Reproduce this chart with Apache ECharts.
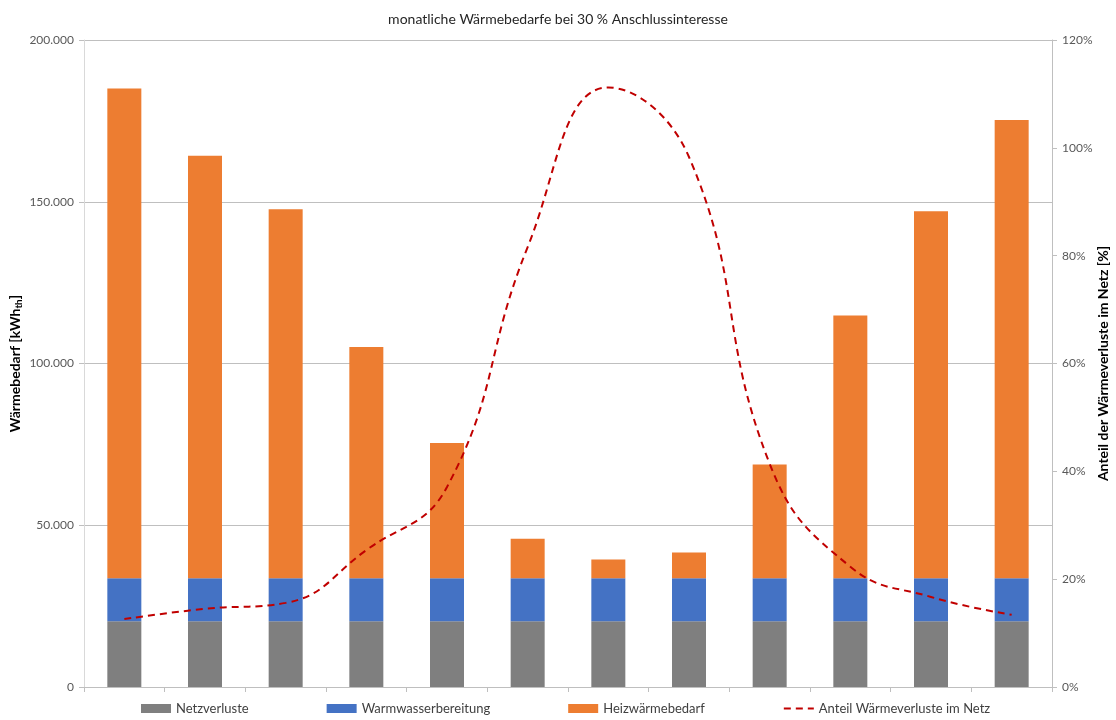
<!DOCTYPE html>
<html>
<head>
<meta charset="utf-8">
<script src="https://cdn.jsdelivr.net/npm/echarts@6/dist/echarts.min.js"></script>
<style>
  html, body { margin: 0; padding: 0; background: #fff; }
  #chart { width: 1116px; height: 720px; }
</style>
</head>
<body>
<div id="chart"></div>
<script>
// months (no labels shown on the axis)
const months = ["Jan", "Feb", "Mär", "Apr", "Mai", "Jun", "Jul", "Aug", "Sep", "Okt", "Nov", "Dez"];

// kWh_th per month
const netzverluste = [20300, 20300, 20300, 20300, 20300, 20300, 20300, 20300, 20300, 20300, 20300, 20300];
const warmwasser = [13300, 13300, 13300, 13300, 13300, 13300, 13300, 13300, 13300, 13300, 13300, 13300];
const heizwaerme = [151400, 130600, 114100, 71500, 41800, 12200, 5800, 8000, 35200, 81200, 113500, 141700];

// share of net losses, percent
const anteilVerluste = [12.6, 14.5, 15.6, 25.4, 37.1, 81.6, 111.2, 98.3, 41.4, 22.3, 16.7, 13.4];

const leftTicks = { min: 0, max: 200000, interval: 50000 };
const rightTicks = { min: 0, max: 120, interval: 20 };

const font = "Lato, 'Liberation Sans', sans-serif";
const fmtDe = v => String(v).replace(/\B(?=(\d{3})+(?!\d))/g, ".");

const chart = echarts.init(document.getElementById("chart"));

chart.setOption({
  animation: false,
  textStyle: { fontFamily: font },
  title: {
    text: "monatliche Wärmebedarfe bei 30 % Anschlussinteresse",
    left: "center",
    top: 7,
    textStyle: { fontSize: 14, fontWeight: "normal", color: "#262626", fontFamily: font }
  },
  legend: {
    left: 136,
    top: 697,
    itemWidth: 30,
    itemHeight: 9,
    itemGap: 78,
    textStyle: { fontSize: 13, color: "#404040", fontFamily: font },
    data: [
      { name: "Netzverluste", icon: "rect" },
      { name: "Warmwasserbereitung", icon: "rect" },
      { name: "Heizwärmebedarf", icon: "rect" },
      { name: "Anteil Wärmeverluste im Netz", itemStyle: { opacity: 0 } }
    ]
  },
  grid: { left: 84, right: 64, top: 40, bottom: 33, containLabel: false, outerBoundsMode: "none" },
  xAxis: {
    type: "category",
    data: months,
    axisLine: { lineStyle: { color: "#bfbfbf" } },
    axisTick: { show: true, length: 5, lineStyle: { color: "#bfbfbf" } },
    axisLabel: { show: false }
  },
  yAxis: [
    {
      type: "value",
      min: leftTicks.min,
      max: leftTicks.max,
      interval: leftTicks.interval,
      name: "{a|Wärmebedarf [kWh}{s|th}{a|]}",
      nameLocation: "middle",
      nameRotate: 90,
      nameGap: 60,
      nameMoveOverlap: false,
      nameTextStyle: {
        rich: {
          a: { fontSize: 14, fontWeight: "bold", color: "#000", fontFamily: font },
          s: { fontSize: 10, fontWeight: "bold", color: "#000", fontFamily: font, padding: [8, 0, 0, 0] }
        }
      },
      axisLine: { show: true, lineStyle: { color: "#d9d9d9" } },
      axisTick: { show: true, length: 5, lineStyle: { color: "#bfbfbf" } },
      axisLabel: { color: "#595959", fontSize: 12, margin: 10, formatter: fmtDe },
      splitLine: { lineStyle: { color: "#bfbfbf" } }
    },
    {
      type: "value",
      position: "right",
      min: rightTicks.min,
      max: rightTicks.max,
      interval: rightTicks.interval,
      name: "Anteil der Wärmeverluste im Netz [%]",
      nameLocation: "middle",
      nameRotate: 90,
      nameGap: 44,
      nameMoveOverlap: false,
      nameTextStyle: { fontSize: 14, fontWeight: "bold", color: "#000", fontFamily: font },
      axisLine: { show: true, lineStyle: { color: "#bfbfbf" } },
      axisTick: { show: true, length: 5, lineStyle: { color: "#bfbfbf" } },
      axisLabel: { color: "#595959", fontSize: 12, margin: 10, formatter: "{value}%" },
      splitLine: { show: false }
    }
  ],
  series: [
    {
      name: "Netzverluste",
      type: "bar",
      stack: "total",
      barWidth: 34,
      itemStyle: { color: "#7f7f7f" },
      data: netzverluste
    },
    {
      name: "Warmwasserbereitung",
      type: "bar",
      stack: "total",
      barWidth: 34,
      itemStyle: { color: "#4472c4" },
      data: warmwasser
    },
    {
      name: "Heizwärmebedarf",
      type: "bar",
      stack: "total",
      barWidth: 34,
      itemStyle: { color: "#ed7d31" },
      data: heizwaerme
    },
    {
      name: "Anteil Wärmeverluste im Netz",
      type: "line",
      yAxisIndex: 1,
      smooth: 0.45,
      symbol: "none",
      z: 5,
      lineStyle: { color: "#c00000", width: 2, type: [7, 5] },
      itemStyle: { color: "#c00000" },
      data: anteilVerluste
    }
  ]
});
</script>
</body>
</html>
